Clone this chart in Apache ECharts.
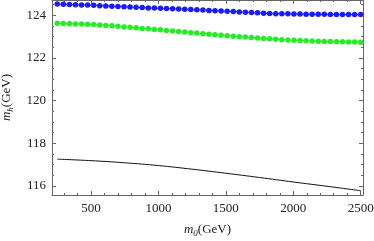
<!DOCTYPE html>
<html><head><meta charset="utf-8">
<script src="https://cdn.jsdelivr.net/npm/echarts@6/dist/echarts.min.js"></script>
<style>html,body{margin:0;padding:0;background:#fff}#c{width:374px;height:241px}</style>
</head><body><div id="c"></div>
<script>
const xValues = [250,295,340,385,430,475,520,565,610,655,700,745,790,835,880,925,970,1015,1060,1105,1150,1195,1240,1285,1330,1375,1420,1465,1510,1555,1600,1645,1690,1735,1780,1825,1870,1915,1960,2005,2050,2095,2140,2185,2230,2275,2320,2365,2410,2455,2500];
const blueValues = [124.53,124.52,124.51,124.50,124.49,124.48,124.47,124.45,124.44,124.43,124.42,124.40,124.39,124.38,124.37,124.35,124.34,124.33,124.32,124.31,124.30,124.29,124.27,124.26,124.25,124.23,124.22,124.21,124.19,124.18,124.16,124.15,124.13,124.12,124.10,124.09,124.08,124.07,124.07,124.06,124.06,124.05,124.05,124.05,124.05,124.04,124.04,124.04,124.04,124.04,124.04];
const greenValues = [123.63,123.62,123.61,123.60,123.59,123.58,123.57,123.55,123.53,123.51,123.49,123.46,123.44,123.42,123.39,123.37,123.34,123.32,123.29,123.27,123.24,123.22,123.19,123.17,123.14,123.12,123.09,123.07,123.05,123.02,123.00,122.98,122.96,122.94,122.92,122.90,122.88,122.86,122.85,122.83,122.82,122.81,122.80,122.79,122.78,122.77,122.76,122.76,122.75,122.75,122.74];
const blackX = [250,500,750,1000,1250,1500,1750,2000,2250,2500];
const blackValues = [117.26,117.19,117.09,116.96,116.79,116.60,116.40,116.19,115.99,115.78];
const xTickLabels = [500,1000,1500,2000,2500];
const xMinorTicks = [300,400,600,700,800,900,1100,1200,1300,1400,1600,1700,1800,1900,2100,2200,2300,2400];
const yTickLabels = [116,118,120,122,124];
const yMinorTicks = [115.5,116.5,117,117.5,118.5,119,119.5,120.5,121,121.5,122.5,123,123.5,124.5];

const pair = (xs, ys) => xs.map((x, i) => [x, ys[i]]);
const FONT = "'Liberation Serif', 'Times New Roman', serif";
const AX = '#666';
const XMIN = 211, XMAX = 2517, YMIN = 115.58, YMAX = 124.72;

function xAx(pos, ticks, len, labels, line) {
  return {
    type: 'value', position: pos, min: XMIN, max: XMAX,
    axisLine: {show: line, lineStyle: {color: AX, width: 1}},
    axisTick: {show: true, inside: true, length: len, customValues: ticks, lineStyle: {color: AX}},
    axisLabel: labels ? {show: true, customValues: ticks, formatter: v => String(v), fontFamily: FONT, fontSize: 13, color: '#222', margin: 7} : {show: false},
    splitLine: {show: false}
  };
}
function yAx(pos, ticks, len, labels, line) {
  return {
    type: 'value', position: pos, min: YMIN, max: YMAX,
    axisLine: {show: line, lineStyle: {color: AX, width: 1}},
    axisTick: {show: true, inside: true, length: len, customValues: ticks, lineStyle: {color: AX}},
    axisLabel: labels ? {show: true, customValues: ticks, formatter: v => String(v), fontFamily: FONT, fontSize: 13, color: '#222', margin: 6} : {show: false},
    splitLine: {show: false}
  };
}

const rich = {
  i: {fontFamily: FONT, fontStyle: 'italic', fontSize: 13, color: '#222'},
  s: {fontFamily: FONT, fontStyle: 'italic', fontSize: 9, color: '#222', verticalAlign: 'bottom', padding: [7, 0, 0, 0]},
  n: {fontFamily: FONT, fontSize: 13, color: '#222'}
};
const xs = [xAx('bottom', xTickLabels, 4, true, true), xAx('bottom', xMinorTicks, 2, false, false),
            xAx('top', xTickLabels, 4, false, true), xAx('top', xMinorTicks, 2, false, false)];
xs[0].name = '{i|m}{s|0}{n|(GeV)}';
xs[0].nameLocation = 'middle';
xs[0].nameGap = 27;
xs[0].nameTextStyle = {fontFamily: FONT, fontSize: 13, color: '#222', rich: rich};
const ys = [yAx('left', yTickLabels, 4, true, true), yAx('left', yMinorTicks, 2, false, false),
            yAx('right', yTickLabels, 4, false, true), yAx('right', yMinorTicks, 2, false, false)];
ys[0].name = '{i|m}{s|h}{n|(GeV)}';
ys[0].nameLocation = 'middle';
ys[0].nameRotate = 90;
ys[0].nameGap = 37;
ys[0].nameTextStyle = {fontFamily: FONT, fontSize: 13, color: '#222', rich: rich};

const chart = echarts.init(document.getElementById('c'), null, {renderer: 'canvas'});
chart.setOption({
  animation: false,
  backgroundColor: '#fff',
  grid: {left: 52, right: 11, top: 0, bottom: 46, containLabel: false, outerBoundsMode: 'none'},
  xAxis: xs,
  yAxis: ys,
  series: [
    {type: 'line', data: pair(xValues, blueValues), symbol: 'circle', symbolSize: 5.5, showSymbol: true,
     itemStyle: {color: '#1a1aff'}, lineStyle: {color: '#1a1aff', width: 1}},
    {type: 'line', data: pair(xValues, greenValues), symbol: 'circle', symbolSize: 5.5, showSymbol: true,
     itemStyle: {color: '#22ee22'}, lineStyle: {color: '#22ee22', width: 1}},
    {type: 'line', data: pair(blackX, blackValues), symbol: 'none', smooth: 0.4,
     lineStyle: {color: '#111', width: 1}}
  ]
});
</script></body></html>
